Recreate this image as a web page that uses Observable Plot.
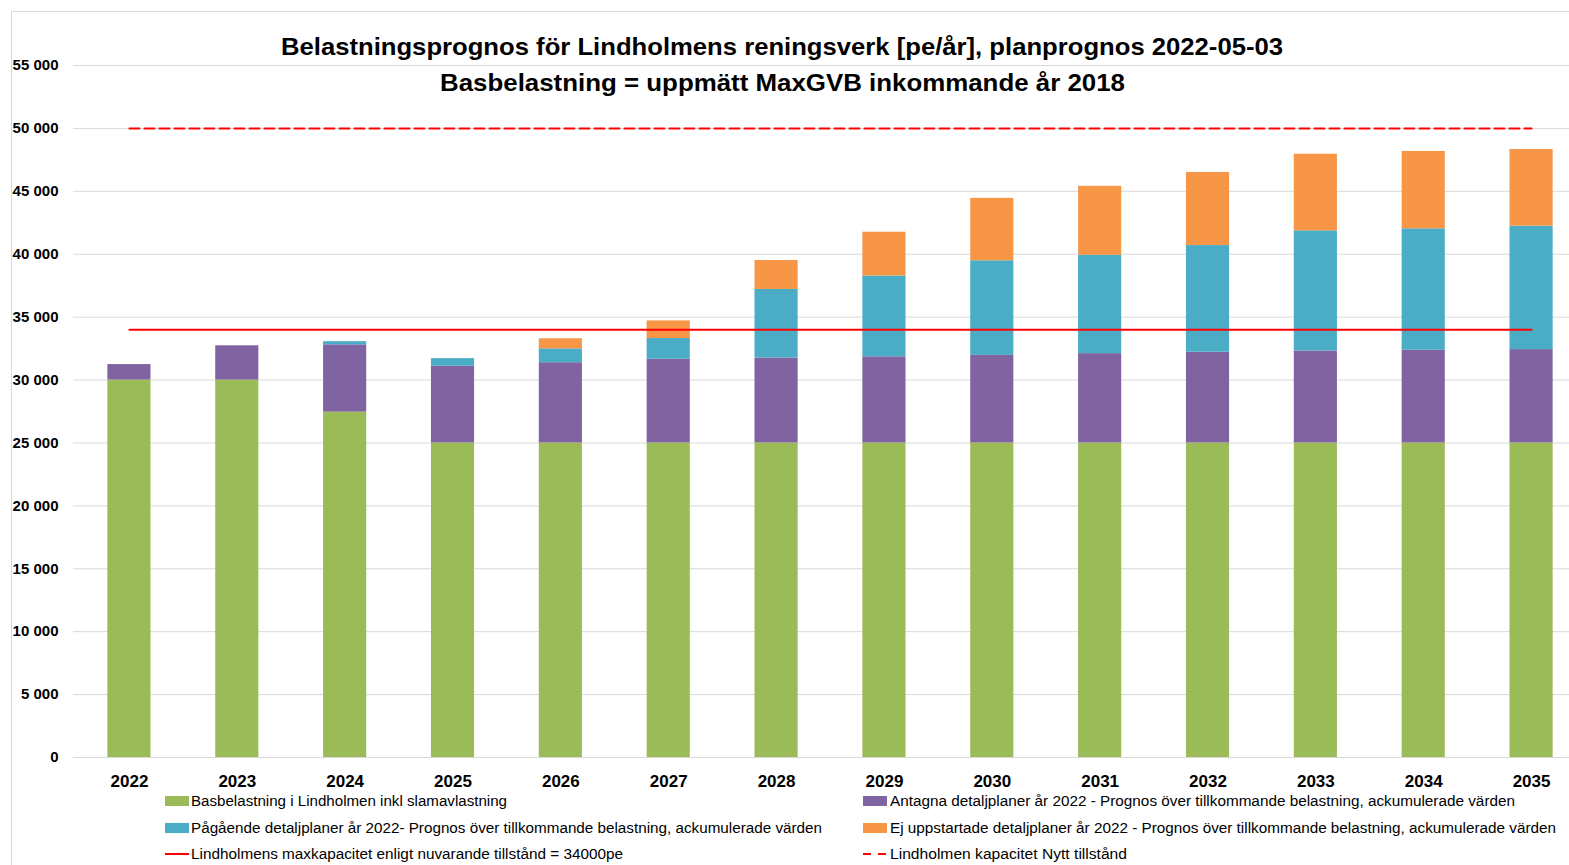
<!DOCTYPE html>
<html><head><meta charset="utf-8">
<script src="https://cdn.jsdelivr.net/npm/d3@7"></script>
<script src="https://cdn.jsdelivr.net/npm/@observablehq/plot@0.6"></script>
<style>
html,body{margin:0;padding:0;background:#fff;overflow:hidden;}
#wrap{position:relative;width:1569px;height:865px;overflow:hidden;font-family:"Liberation Sans",Arial,sans-serif;color:#000;}
#frame{position:absolute;left:11px;top:11px;width:1700px;height:1000px;border-left:1px solid #d9d9d9;border-top:1px solid #d9d9d9;}
#plot{position:absolute;left:0;top:0;}
.t{position:absolute;white-space:nowrap;transform-origin:left center;line-height:1;}
.title{font-weight:bold;font-size:24px;}
.leg{font-size:14px;}
.sw{position:absolute;width:24px;height:10px;}
.ln{position:absolute;width:24px;height:2px;background:#ff0000;}
.ln.dash{background:linear-gradient(to right,#ff0000 0 8px,transparent 8px 15px,#ff0000 15px 23px,transparent 23px);}
</style>
</head><body>
<div id="wrap">
  <div id="frame"></div>
  <div id="plot"></div>
  <div id="texts"></div>
</div>
<script>
// ---- data ----
const years = ["2022","2023","2024","2025","2026","2027","2028","2029","2030","2031","2032","2033","2034","2035"];
const basbelastning = [30000,30000,27450,25000,25000,25000,25000,25000,25000,25000,25000,25000,25000,25000];
const antagna       = [1230,2720,5350,6100,6380,6650,6750,6850,6960,7100,7210,7310,7370,7420];
const pagaende      = [0,0,250,600,1100,1650,5450,6420,7520,7820,8480,9550,9650,9810];
const ejUppstartade = [0,0,0,0,800,1400,2300,3480,4960,5480,5810,6090,6150,6090];
const capacityCurrent = 34000;
const capacityNew = 50000;
const yTicks = [0,5000,10000,15000,20000,25000,30000,35000,40000,45000,50000,55000];
const seriesNames = [
  "Basbelastning i Lindholmen inkl slamavlastning",
  "Antagna detaljplaner år 2022 - Prognos över tillkommande belastning, ackumulerade värden",
  "Pågående detaljplaner år 2022- Prognos över tillkommande belastning, ackumulerade värden",
  "Ej uppstartade detaljplaner år 2022 - Prognos över tillkommande belastning, ackumulerade värden"
];
const seriesColors = ["#9bbb59","#8064a2","#4bacc6","#f79646"];
const lineNames = [
  "Lindholmens maxkapacitet enligt nuvarande tillstånd = 34000pe",
  "Lindholmen kapacitet Nytt tillstånd"
];
const titleLines = [
  "Belastningsprognos för Lindholmens reningsverk [pe/år], planprognos 2022-05-03",
  "Basbelastning = uppmätt MaxGVB inkommande år 2018"
];

// ---- build table ----
const seriesValues = [basbelastning, antagna, pagaende, ejUppstartade];
const rows = [];
seriesNames.forEach((s, i) => years.forEach((y, j) => {
  const v = seriesValues[i][j];
  if (v > 0) rows.push({year: y, series: s, value: v});
}));
const fmt = d => d3.format(",")(d).replace(/,/g, " ");

const chart = Plot.plot({
  width: 1569, height: 865,
  marginTop: 65, marginBottom: 108, marginLeft: 73, marginRight: 0,
  style: {fontFamily: "Liberation Sans, Arial, sans-serif", background: "transparent", overflow: "visible", color: "#000"},
  x: {domain: years, type: "band", range: [75, 1585], paddingInner: 0.6, paddingOuter: 0.3, round: false},
  y: {domain: [0, 55000]},
  color: {domain: seriesNames, range: seriesColors},
  marks: [
    Plot.gridY(yTicks, {stroke: "#d9d9d9", strokeOpacity: 1, strokeWidth: 1}),
    Plot.barY(rows, {x: "year", y: "value", fill: "series"}),
    Plot.lineY(years, {x: d => d, y: () => capacityCurrent, stroke: "#ff0000", strokeWidth: 2}),
    Plot.lineY(years, {x: d => d, y: () => capacityNew, stroke: "#ff0000", strokeWidth: 2, strokeDasharray: "10,5"}),
    Plot.axisY(yTicks, {tickSize: 0, tickPadding: 15, tickFormat: fmt, fontSize: 15, fontWeight: "bold", label: null}),
    Plot.axisX({tickSize: 0, tickPadding: 17, fontSize: 17, fontWeight: "bold", label: null})
  ]
});
document.getElementById("plot").appendChild(chart);

// ---- texts (title + legend) ----
const texts = document.getElementById("texts");
function addText(str, cls, left, cy, targetW) {
  const el = document.createElement("div");
  el.className = "t " + cls;
  el.textContent = str;
  texts.appendChild(el);
  const h = el.offsetHeight;
  el.style.left = left + "px";
  el.style.top = (cy - h / 2) + "px";
  if (targetW) {
    const w = el.getBoundingClientRect().width;
    el.style.transform = "scaleX(" + (targetW / w) + ")";
  }
  return el;
}
function addCentered(str, cls, cx, cy, targetW) {
  addText(str, cls, cx - targetW / 2, cy, targetW);
}
addCentered(titleLines[0], "title", 782, 47, 1002);
addCentered(titleLines[1], "title", 782.5, 83, 685);

function swatch(color, left, cy) {
  const s = document.createElement("div");
  s.className = "sw";
  s.style.background = color;
  s.style.left = left + "px";
  s.style.top = (cy - 5) + "px";
  texts.appendChild(s);
}
function lineSw(dashed, left, cy) {
  const s = document.createElement("div");
  s.className = "ln" + (dashed ? " dash" : "");
  s.style.left = left + "px";
  s.style.top = (cy - 1) + "px";
  texts.appendChild(s);
}
const c1 = 165, c2 = 863, t1 = 191, t2 = 890;
swatch(seriesColors[0], c1, 801); addText(seriesNames[0], "leg", t1, 801, 316);
swatch(seriesColors[1], c2, 801); addText(seriesNames[1], "leg", t2, 801, 625);
swatch(seriesColors[2], c1, 828); addText(seriesNames[2], "leg", t1, 828, 631);
swatch(seriesColors[3], c2, 828); addText(seriesNames[3], "leg", t2, 828, 666);
lineSw(false, c1, 854); addText(lineNames[0], "leg", t1, 854, 432);
lineSw(true, c2, 854); addText(lineNames[1], "leg", t2, 854, 237);
</script>
</body></html>
